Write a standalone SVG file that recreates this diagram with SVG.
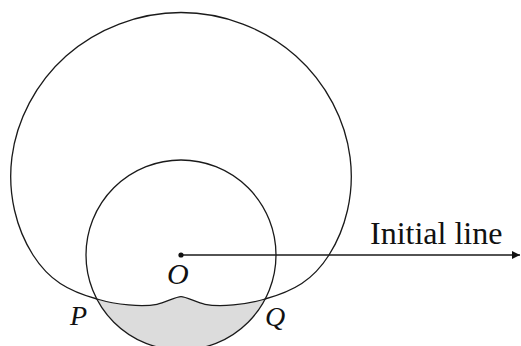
<svg xmlns="http://www.w3.org/2000/svg" width="521" height="346" viewBox="0 0 521 346">
<style>
.ln{fill:none;stroke:#1a1a1a;stroke-width:1.3}
.lbl{font-family:"Liberation Serif","Times New Roman",serif;fill:#111}
.it{font-style:italic}
</style>
<defs>
<marker id="ah" viewBox="0 0 10 10" refX="10" refY="5" markerWidth="8" markerHeight="8" markerUnits="userSpaceOnUse" orient="auto">
<path d="M0,0 L10,5 L0,10 Z" fill="#111"/>
</marker>
</defs>
<rect width="521" height="346" fill="#fff"/>
<g id="shaded">
<path d="M97,299 C116.2,304.8 142,307.3 157,304.3 C165,302.7 176,296.7 181,296.7 C186,296.7 197,302.7 205,304.3 C220,307.3 245.8,304.8 265,299 A95,95 0 0 1 97,299 Z" fill="#dcdcdc" stroke="none"/>
</g>
<g id="curve">
<path class="ln" d="M329,255 C345.49,229.17 354.76,194.02 350.09,157.37 C345.42,120.72 326.53,83.16 295.92,55.96 C265.31,28.76 223.32,12.5 181,12.5 C138.68,12.5 96.69,28.76 66.08,55.96 C35.47,83.16 16.58,120.72 11.91,157.37 C7.24,194.02 16.51,229.17 33,255 C49.1,280.3 68.2,291.05 97,299 C116.2,304.8 142,307.3 157,304.3 C165,302.7 176,296.7 181,296.7 C186,296.7 197,302.7 205,304.3 C220,307.3 245.8,304.8 265,299 C293.8,291.05 312.9,280.3 329,255 Z"/>
</g>
<g id="circle">
<circle class="ln" cx="181" cy="255" r="95"/>
</g>
<g id="connectors">
<line x1="181" y1="255" x2="520" y2="255" stroke="#1a1a1a" stroke-width="1.4" marker-end="url(#ah)"/>
</g>
<g id="pole">
<circle cx="181" cy="255" r="2.6" fill="#111"/>
<text class="lbl it" x="167" y="284" font-size="30">O</text>
</g>
<g id="label-initial">
<text class="lbl" x="370" y="244" font-size="32">Initial line</text>
</g>
<g id="label-P">
<text class="lbl it" x="70" y="325" font-size="28">P</text>
</g>
<g id="label-Q">
<text class="lbl it" x="265" y="326" font-size="28">Q</text>
</g>
</svg>
